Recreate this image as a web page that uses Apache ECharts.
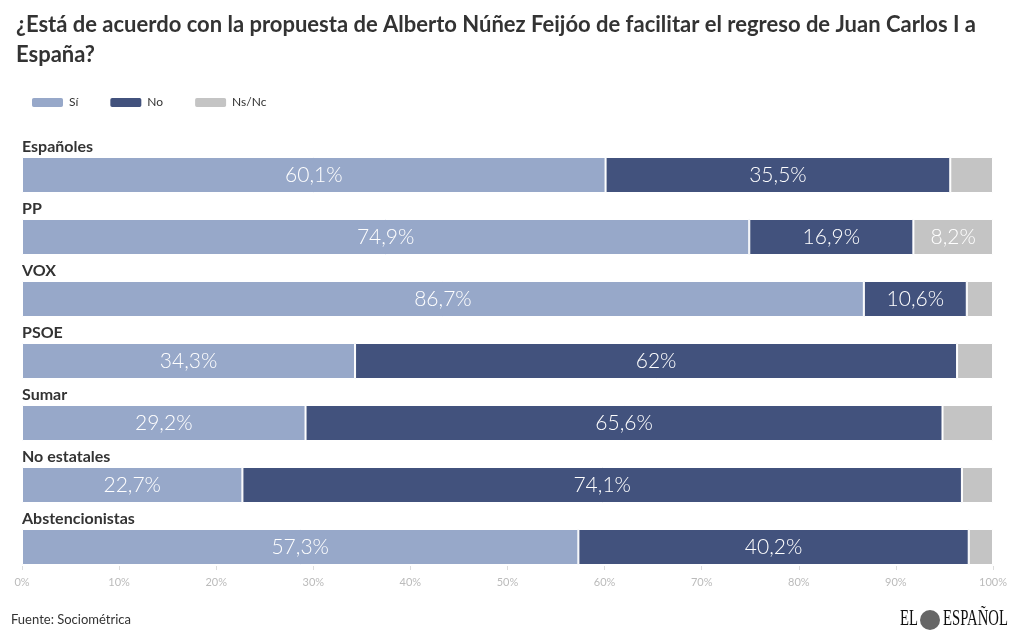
<!DOCTYPE html>
<html>
<head>
<meta charset="utf-8">
<script src="https://cdn.jsdelivr.net/npm/echarts@6/dist/echarts.min.js"></script>
<style>
  html, body { margin: 0; padding: 0; background: #fff; }
  #chart { width: 1020px; height: 643px; }
</style>
</head>
<body>
<div id="chart"></div>
<script>
const categories = ['Españoles', 'PP', 'VOX', 'PSOE', 'Sumar', 'No estatales', 'Abstencionistas'];
const si = [60.1, 74.9, 86.7, 34.3, 29.2, 22.7, 57.3];
const no = [35.5, 16.9, 10.6, 62, 65.6, 74.1, 40.2];
const nsnc = [4.4, 8.2, 2.7, 3.7, 5.2, 3.2, 2.5];
const seriesNames = ['Sí', 'No', 'Ns/Nc'];
const colors = ['#97a8c9', '#42527d', '#c4c4c4'];

// small segments stay unlabeled, like the original
let valueFormatter = (p) => p.value < 6 ? '' : String(p.value).replace('.', ',') + '%';

const series = [si, no, nsnc].map((values, i) => ({
    name: seriesNames[i],
    type: 'bar',
    stack: 'total',
    data: values,
    barWidth: 36,
    color: colors[i],
    itemStyle: { borderColor: '#fff', borderWidth: 1 },
    label: {
        show: true,
        position: 'inside',
        formatter: valueFormatter,
        color: '#fff',
        fontFamily: 'Lato',
        fontWeight: 300,
        fontSize: 21
    }
}));

const chart = echarts.init(document.getElementById('chart'));
chart.setOption({
    animation: false,
    title: {
        text: '¿Está de acuerdo con la propuesta de Alberto Núñez Feijóo de facilitar el regreso de Juan Carlos I a\nEspaña?',
        left: 11,
        top: 5,
        textStyle: {
            fontFamily: 'Lato',
            fontWeight: 'bold',
            fontSize: 22,
            lineHeight: 30,
            color: '#333'
        }
    },
    legend: {
        left: 30,
        top: 96,
        padding: 0,
        itemWidth: 33,
        itemHeight: 11,
        itemGap: 30,
        icon: 'roundRect',
        textStyle: { fontFamily: 'Lato', fontSize: 12, color: '#333' },
        data: seriesNames
    },
    grid: { left: 22, right: 27, top: 144, bottom: 65 },
    xAxis: {
        type: 'value',
        min: 0,
        max: 100,
        interval: 10,
        offset: -12,
        axisLine: { show: false },
        axisTick: { show: true, length: 4, lineStyle: { color: '#ddd' } },
        splitLine: { show: false },
        axisLabel: {
            formatter: '{value}%',
            color: '#bbb',
            fontFamily: 'Lato',
            fontSize: 11,
            margin: 11
        }
    },
    yAxis: {
        type: 'category',
        inverse: true,
        data: categories,
        axisLine: { show: false },
        axisTick: { show: false },
        axisLabel: {
            inside: true,
            margin: 0,
            align: 'left',
            verticalAlign: 'bottom',
            formatter: (v) => '{n|' + v + '}\n{gap|}',
            rich: {
                n: { fontFamily: 'Lato', fontWeight: 'bold', fontSize: 16, lineHeight: 20, color: '#333' },
                gap: { lineHeight: 18 }
            }
        },
        z: 10
    },
    graphic: [
        {
            type: 'text',
            left: 11,
            top: 613,
            style: { text: 'Fuente: Sociométrica', font: '13px Lato', fill: '#333' }
        },
        {
            type: 'text',
            x: 900,
            y: 607,
            scaleX: 0.64,
            style: { text: 'EL', font: '23px "Liberation Serif"', fill: '#111' }
        },
        {
            type: 'circle',
            shape: { cx: 930, cy: 620, r: 10 },
            style: { fill: '#666' }
        },
        {
            type: 'text',
            x: 943,
            y: 607,
            scaleX: 0.64,
            style: { text: 'ESPAÑOL', font: '23px "Liberation Serif"', fill: '#111' }
        }
    ],
    series: series
});

window.addEventListener('resize', () => {
    chart.resize();
});
</script>
</body>
</html>
